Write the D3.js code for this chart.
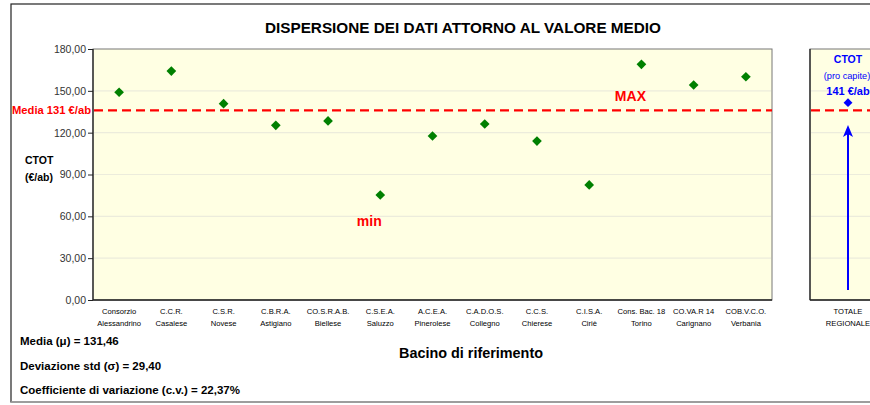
<!DOCTYPE html>
<html><head><meta charset="utf-8">
<script src="https://cdn.jsdelivr.net/npm/d3@7"></script>
<style>body{margin:0;background:#fff;} text{font-family:"Liberation Sans",Arial,sans-serif;}</style>
</head><body>
<svg id="c" width="870" height="405"></svg>
<script>
const categories = [
  ["Consorzio","Alessandrino"],["C.C.R.","Casalese"],["C.S.R.","Novese"],["C.B.R.A.","Astigiano"],
  ["CO.S.R.A.B.","Biellese"],["C.S.E.A.","Saluzzo"],["A.C.E.A.","Pinerolese"],["C.A.D.O.S.","Collegno"],
  ["C.C.S.","Chierese"],["C.I.S.A.","Ciriè"],["Cons. Bac. 18","Torino"],["CO.VA.R 14","Carignano"],["COB.V.C.O.","Verbania"]
];
const values = [149.0, 164.2, 140.8, 125.3, 128.4, 75.3, 117.6, 126.2, 114.0, 82.5, 169.0, 154.2, 160.1];
const yTicks = [0, 30, 60, 90, 120, 150, 180];
const meanLineValue = 136;
const regionalValue = 141.5;
const regionalCategory = ["TOTALE","REGIONALE"];
const statsLines = ["Media (μ) = 131,46", "Deviazione std (σ) = 29,40", "Coefficiente di variazione (c.v.) = 22,37%"];

const svg = d3.select("#c");
// outer border
svg.append("rect").attr("x",11).attr("y",4).attr("width",900).attr("height",398)
  .attr("fill","none").attr("stroke","#222").attr("stroke-width",1.2);
svg.append("line").attr("x1",11).attr("x2",870).attr("y1",402).attr("y2",402).attr("stroke","#aaa").attr("stroke-width",1.5);

const L=93, R=772, T=49, B=300;
const x = d3.scaleBand().domain(d3.range(categories.length)).range([L,R]);
const y = d3.scaleLinear().domain([0,180]).range([B,T]);

// plot backgrounds
svg.append("rect").attr("x",L).attr("y",T).attr("width",R-L).attr("height",B-T).attr("fill","#FFFFE3").attr("stroke","#777").attr("stroke-width",1);
const P2L=810, P2R=886;
const x2 = d3.scaleBand().domain([0]).range([P2L,P2R]);
svg.append("rect").attr("x",P2L).attr("y",T).attr("width",P2R-P2L).attr("height",B-T).attr("fill","#FFFFE3").attr("stroke","#777").attr("stroke-width",1);

// gridlines
[[L,R],[P2L,P2R]].forEach(([a,b])=>{
  svg.append("g").selectAll("line").data(yTicks.filter(t=>t>0&&t<180)).join("line")
    .attr("x1",a+1).attr("x2",b-1).attr("y1",d=>y(d)).attr("y2",d=>y(d))
    .attr("stroke","#ECECDC").attr("stroke-width",1.2);
});

// axes lines
svg.append("line").attr("x1",L).attr("x2",L).attr("y1",T).attr("y2",B).attr("stroke","#222").attr("stroke-width",1.3);
svg.append("line").attr("x1",L).attr("x2",R).attr("y1",B).attr("y2",B).attr("stroke","#222").attr("stroke-width",1.3);
svg.append("line").attr("x1",P2L).attr("x2",P2L).attr("y1",T).attr("y2",B).attr("stroke","#222").attr("stroke-width",1.3);
svg.append("line").attr("x1",P2L).attr("x2",P2R).attr("y1",B).attr("y2",B).attr("stroke","#222").attr("stroke-width",1.3);

// y axis
const yAxis = d3.axisLeft(y).tickValues(yTicks).tickSize(5).tickFormat(d=>d3.format(".2f")(d).replace(".",","));
const ga = svg.append("g").attr("transform",`translate(${L},0)`).call(yAxis);
ga.select(".domain").remove();
ga.selectAll(".tick line").attr("stroke","#222");
ga.selectAll(".tick text").attr("font-size",10.5).attr("fill","#333").attr("x",-7).style("font-family","Liberation Sans, Arial, sans-serif");

// x labels
const xl = svg.append("g").selectAll("text").data(categories).join("text")
  .attr("x",(d,i)=>x(i)+x.bandwidth()/2).attr("y",314).attr("text-anchor","middle")
  .attr("font-size",7.6).attr("fill","#000");
xl.each(function(d){
  const t=d3.select(this);
  t.append("tspan").attr("x",t.attr("x")).attr("dy",0).text(d[0]);
  t.append("tspan").attr("x",t.attr("x")).attr("dy",12).text(d[1]);
});
const rl = svg.append("text").attr("x",x2(0)+x2.bandwidth()/2).attr("y",314).attr("text-anchor","middle").attr("font-size",7.6).attr("fill","#000");
rl.append("tspan").attr("x",x2(0)+x2.bandwidth()/2).text(regionalCategory[0]);
rl.append("tspan").attr("x",x2(0)+x2.bandwidth()/2).attr("dy",12).text(regionalCategory[1]);

// mean dashed line
[[L,R],[P2L,870]].forEach(([a,b])=>{
  svg.append("line").attr("x1",a+1).attr("x2",b).attr("y1",y(meanLineValue)).attr("y2",y(meanLineValue))
    .attr("stroke","#FF0000").attr("stroke-width",2.3).attr("stroke-dasharray","9,5");
});
svg.append("text").attr("x",91).attr("y",y(meanLineValue)+4).attr("text-anchor","end")
  .attr("font-size",11.2).attr("font-weight","bold").attr("fill","#FF0000").text("Media 131 €/ab");

// points
const sym = d3.symbol().type(d3.symbolDiamond2).size(60);
svg.append("g").selectAll("path").data(values).join("path")
  .attr("d",sym).attr("transform",(d,i)=>`translate(${x(i)+x.bandwidth()/2},${y(d)})`)
  .attr("fill","#008000");

// MAX / min labels
const iMax = values.indexOf(d3.max(values)), iMin = values.indexOf(d3.min(values));
svg.append("text").attr("x",x(iMax)+x.bandwidth()/2-11).attr("y",y(values[iMax])+37).attr("text-anchor","middle")
  .attr("font-size",14).attr("font-weight","bold").attr("fill","#FF0000").text("MAX");
svg.append("text").attr("x",x(iMin)+x.bandwidth()/2-11).attr("y",y(values[iMin])+31).attr("text-anchor","middle")
  .attr("font-size",14).attr("font-weight","bold").attr("fill","#FF0000").text("min");

// regional panel
const cx2 = x2(0)+x2.bandwidth()/2;
svg.append("path").attr("d",d3.symbol().type(d3.symbolDiamond2).size(50)).attr("transform",`translate(${cx2},${y(regionalValue)})`).attr("fill","#0000FF");
svg.append("line").attr("x1",cx2).attr("x2",cx2).attr("y1",290).attr("y2",132).attr("stroke","#0000FF").attr("stroke-width",2);
svg.append("path").attr("d",`M${cx2},125 L${cx2-5},137 L${cx2},134 L${cx2+5},137 Z`).attr("fill","#0000FF");
svg.append("text").attr("x",cx2).attr("y",63).attr("text-anchor","middle").attr("font-size",10.5).attr("font-weight","bold").attr("fill","#0000FF").text("CTOT");
svg.append("text").attr("x",cx2-1).attr("y",79).attr("text-anchor","middle").attr("font-size",9.2).attr("fill","#0000FF").text("(pro capite)");
svg.append("text").attr("x",cx2).attr("y",95).attr("text-anchor","middle").attr("font-size",11).attr("font-weight","bold").attr("fill","#0000FF").text("141 €/ab");

// title & axis titles
svg.append("text").attr("x",463).attr("y",33).attr("text-anchor","middle").attr("font-size",15.3).attr("font-weight","bold").attr("fill","#000")
  .text("DISPERSIONE DEI DATI ATTORNO AL VALORE MEDIO");
svg.append("text").attr("x",25).attr("y",164).attr("font-size",10.5).attr("font-weight","bold").text("CTOT");
svg.append("text").attr("x",25).attr("y",181).attr("font-size",10.5).attr("font-weight","bold").text("(€/ab)");
svg.append("text").attr("x",471).attr("y",358).attr("text-anchor","middle").attr("font-size",14.4).attr("font-weight","bold").text("Bacino di riferimento");

// stats
svg.append("g").selectAll("text").data(statsLines).join("text")
  .attr("x",20).attr("y",(d,i)=>345+i*24.5).attr("font-size",11.5).attr("font-weight","bold").text(d=>d);
</script>
</body></html>
